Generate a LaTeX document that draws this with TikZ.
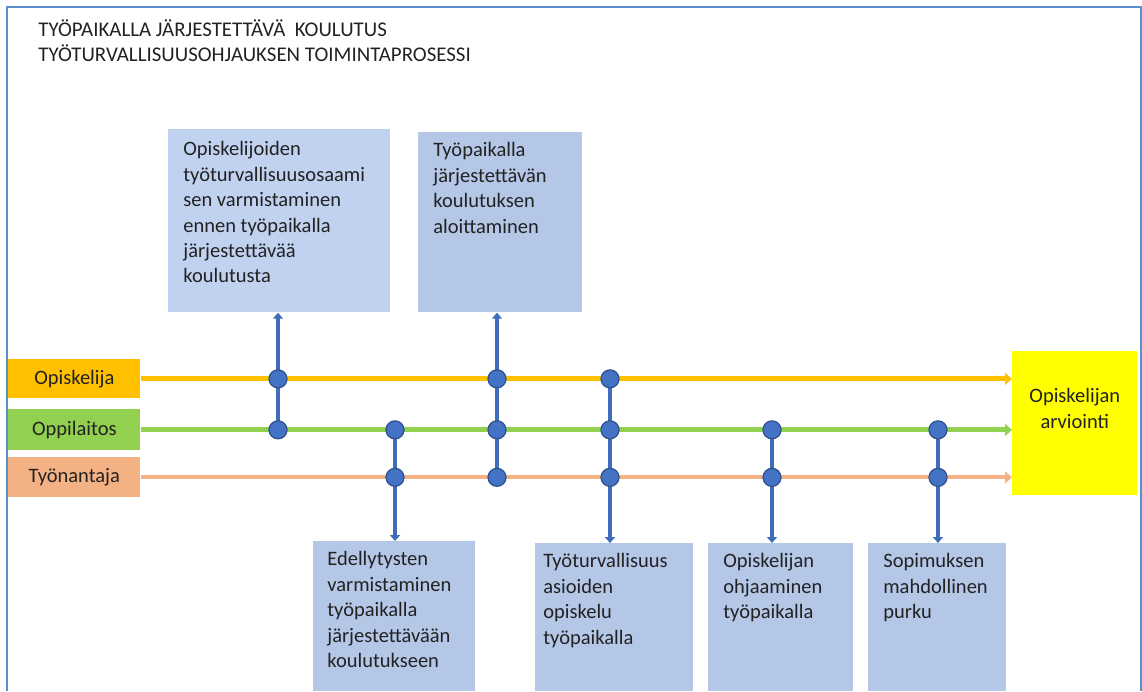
\documentclass[tikz,border=0pt]{standalone}
\usepackage{fontspec}
\setmainfont{Carlito}
\usetikzlibrary{arrows.meta,backgrounds}
\newdimen\pxu \pxu=0.02cm
\definecolor{frameblue}{HTML}{5B8FCB}
\definecolor{opisk}{HTML}{FFC000}
\definecolor{oppil}{HTML}{92D050}
\definecolor{tyon}{HTML}{F4B183}
\definecolor{connblue}{HTML}{3F6DBA}
\definecolor{dotfill}{HTML}{4472C4}
\definecolor{dotdraw}{HTML}{2F528F}
\definecolor{boxlight}{HTML}{C0D2F0}
\definecolor{boxblue}{HTML}{B4C7E7}
\definecolor{evyellow}{HTML}{FFFF00}
\definecolor{txt}{HTML}{222222}
% width, height, top gap, left gap, text
\newcommand\boxtxt[5]{\parbox[c][#2\pxu][t]{#1\pxu}{\vspace*{#3\pxu}\raggedright\leftskip=#4\pxu\relax #5\par}}
\newcommand\ctrtxt[4]{\parbox[c][#2\pxu][t]{#1\pxu}{\vspace*{#3\pxu}\centering #4\par}}
\begin{document}
\begin{tikzpicture}[x=0.02cm, y=-0.02cm,
  font=\fontsize{11.67}{14.5}\selectfont, text=txt,
  frame/.style={draw=frameblue, line width=0.04cm},
  procbox/.style={inner sep=0pt, anchor=north west, fill=boxblue},
  lanelab/.style={inner sep=0pt, anchor=north west, minimum width=2.64cm},
  lane/.style={line width=0.1cm, -{Triangle[length=0.14cm,width=0.24cm]}},
  vconn/.style={draw=connblue, fill=connblue, line width=0.08cm, -{Triangle[length=0.12cm,width=0.2cm]}},
  dot/.style={circle, fill=dotfill, draw=dotdraw, line width=0.025cm, minimum size=0.36cm, inner sep=0pt},
  titletext/.style={anchor=base west, inner sep=0pt, font=\fontsize{11.9}{14.5}\selectfont}]
\useasboundingbox (0,0) rectangle (1142,691);
% frame
\draw[frame] (7,691) -- (7,7) -- (1141,7) -- (1141,691);
% title
\node[titletext] (t1) at (38,36) {TYÖPAIKALLA JÄRJESTETTÄVÄ\ \ KOULUTUS};
\node[titletext] (t2) at (38,61) {TYÖTURVALLISUUSOHJAUKSEN TOIMINTAPROSESSI};
% lane labels
\node[lanelab, fill=opisk, minimum height=0.78cm] (l1) at (8,359) {Opiskelija};
\node[lanelab, fill=oppil, minimum height=0.82cm] (l2) at (8,409) {Oppilaitos};
\node[lanelab, fill=tyon, minimum height=0.80cm] (l3) at (8,457) {Työnantaja};
% evaluation box
\node[inner sep=0pt, anchor=north west, fill=evyellow] (ev) at (1012,351)
  {\ctrtxt{125}{144}{37}{Opiskelijan\\arviointi}};
% process boxes
\node[procbox, fill=boxlight] (b1) at (168,129)
  {\boxtxt{222}{183}{12}{15}{Opiskelijoiden\\työturvallisuusosaami\\sen varmistaminen\\ennen työpaikalla\\järjestettävää\\koulutusta}};
\node[procbox] (b2) at (418,132)
  {\boxtxt{164}{180}{10}{15}{Työpaikalla\\järjestettävän\\koulutuksen\\aloittaminen}};
\node[procbox] (b3) at (313,541)
  {\boxtxt{162}{150}{10}{14}{Edellytysten\\varmistaminen\\työpaikalla\\järjestettävään\\koulutukseen}};
\node[procbox] (b4) at (535,543)
  {\boxtxt{158}{148}{10}{8}{Työturvallisuus\\asioiden\\opiskelu\\työpaikalla}};
\node[procbox] (b5) at (708,543)
  {\boxtxt{145}{148}{10}{15}{Opiskelijan\\ohjaaminen\\työpaikalla}};
\node[procbox] (b6) at (868,543)
  {\boxtxt{138}{148}{10}{15}{Sopimuksen\\mahdollinen\\purku}};
% lanes
\draw[lane, draw=opisk, fill=opisk] (l1.east) -- (l1.east -| ev.west);
\draw[lane, draw=oppil, fill=oppil] (l2.east) -- (l2.east -| ev.west);
\draw[lane, draw=tyon, fill=tyon, line width=0.08cm] (l3.east) -- (l3.east -| ev.west);
% dots
\node[dot] (d1a) at (278,0 |- l1.east) {};
\node[dot] (d1b) at (278,0 |- l2.east) {};
\node[dot] (d2a) at (395,0 |- l2.east) {};
\node[dot] (d2b) at (395,0 |- l3.east) {};
\node[dot] (d3a) at (497,0 |- l1.east) {};
\node[dot] (d3b) at (497,0 |- l2.east) {};
\node[dot] (d3c) at (497,0 |- l3.east) {};
\node[dot] (d4a) at (610,0 |- l1.east) {};
\node[dot] (d4b) at (610,0 |- l2.east) {};
\node[dot] (d4c) at (610,0 |- l3.east) {};
\node[dot] (d5a) at (772,0 |- l2.east) {};
\node[dot] (d5b) at (772,0 |- l3.east) {};
\node[dot] (d6a) at (938,0 |- l2.east) {};
\node[dot] (d6b) at (938,0 |- l3.east) {};
% connectors (behind the dots)
\begin{pgfonlayer}{background}
\draw[vconn] (d1b.center) -- (b1.south -| d1b.center);
\draw[vconn] (d2a.center) -- (b3.north -| d2a.center);
\draw[vconn] (d3c.center) -- (b2.south -| d3c.center);
\draw[vconn] (d4a.center) -- (b4.north -| d4a.center);
\draw[vconn] (d5a.center) -- (b5.north -| d5a.center);
\draw[vconn] (d6a.center) -- (b6.north -| d6a.center);
\end{pgfonlayer}
\end{tikzpicture}
\end{document}
